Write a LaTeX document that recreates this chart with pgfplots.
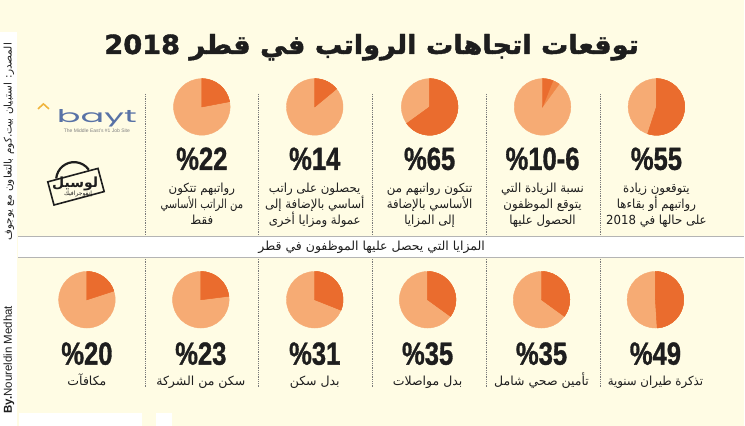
\documentclass[border=0pt]{standalone}
\usepackage{pgfplots}
\usepackage{pgfplotstable}
\usepackage{graphicx}
\usepackage{fontspec}
\pgfplotsset{compat=1.18}
\setmainfont{Liberation Sans}
\newfontfamily\arabicfont[Script=Arabic]{DejaVu Sans}
\newfontfamily\titlefont[Script=Arabic, FakeBold=1.6]{DejaVu Sans Bold}
\newfontfamily\numfont[FakeBold=1.2]{Liberation Sans Bold}
\newfontfamily\logofont{Poppins}
\TeXXeTstate=1

\definecolor{cream}{HTML}{FFFCE4}
\definecolor{piedark}{HTML}{EA6C2E}
\definecolor{pielight}{HTML}{F6AB74}
\definecolor{piemid}{HTML}{F08848}
\definecolor{baytblue}{HTML}{5872A6}
\definecolor{baytgold}{HTML}{F0B43C}
\definecolor{rulegray}{HTML}{B4B4B4}
\definecolor{divgray}{HTML}{7A7A7A}
\definecolor{ink}{HTML}{1E1E1E}

\newcommand{\ar}[1]{{\arabicfont\beginR #1\endR}}
\newcommand{\arn}[1]{\scalebox{0.94}[1]{\arabicfont\beginR #1\endR}}
\newcommand{\bignum}[1]{\scalebox{0.8}[1]{\numfont\fontsize{32}{32}\selectfont #1}}

% pie centres (cx, cy) and shares: v = outer share, w = inner (darkest) share
\pgfplotstableread{
cx  cy  v   w
202 107 22  22
315 107 14  14
430 107 65  65
543 107 10  6
657 107 55  55
87  300 20  20
201 300 23  23
315 300 31  31
428 300 35  35
542 300 35  35
656 300 49  49
}\pies

\begin{document}
\begin{tikzpicture}
\begin{axis}[
  x=1pt, y=1pt,
  xmin=0, xmax=745, ymin=0, ymax=426,
  y dir=reverse,
  hide axis, clip=false,
  axis background/.style={fill=cream},
]
% side strip and corner patches
\fill[white] (0,32) rectangle (17,426);
\fill[white] (19,413) rectangle (142,426);
\fill[white] (156,413) rectangle (172,426);

% middle band
\fill[white] (18,236) rectangle (745,258);
\draw[rulegray, line width=1.3pt] (18,236.5) -- (745,236.5);
\draw[rulegray, line width=1.3pt] (18,257.5) -- (745,257.5);
\node[text=ink, font=\fontsize{12.5}{14}\selectfont] at (372,247)
  {\ar{المزايا التي يحصل عليها الموظفون في قطر}};

% dotted column dividers
\pgfplotsinvokeforeach{145,259,373,487,601}{
  \draw[divgray, line width=0.6pt, dash pattern=on 0.6pt off 1.2pt] (#1,94) -- (#1,235);
  \draw[divgray, line width=0.6pt, dash pattern=on 0.6pt off 1.2pt] (#1,259) -- (#1,388);
}

% pies
\addplot[only marks, scatter, mark=*, mark size=0pt,
  visualization depends on={\thisrow{v} \as \pv},
  visualization depends on={\thisrow{w} \as \pw},
  scatter/@pre marker code/.code={
    \fill[pielight] (0,0) circle[radius=28.3pt];
    \fill[piemid] (0,0) -- (90:28.3pt) arc[start angle=90, delta angle={-3.6*\pv}, radius=28.3pt] -- cycle;
    \fill[piedark] (0,0) -- (90:28.3pt) arc[start angle=90, delta angle={-3.6*\pw}, radius=28.3pt] -- cycle;
  },
  scatter/@post marker code/.code={},
] table[x=cx, y=cy] {\pies};

% title
\node[anchor=base, text=ink] at (372,54)
  {\resizebox{535pt}{20pt}{\titlefont\beginR توقعات اتجاهات الرواتب في قطر \beginL 2018\endL\endR}};

% top row figures
\begin{scope}[every node/.style={anchor=base, text=ink}]
\node at (202,170) {\bignum{\%22}};
\node at (315,170) {\bignum{\%14}};
\node at (430,170) {\bignum{\%65}};
\node at (543,170) {\bignum{\%10-6}};
\node at (657,170) {\bignum{\%55}};
\end{scope}

% top row captions
\begin{scope}[every node/.style={anchor=base, text=ink, font=\fontsize{12.5}{14}\selectfont}]
\node at (202,193) {\arn{رواتبهم تتكون}};
\node at (202,209) {\scalebox{0.8}[1]{\arabicfont\beginR من الراتب الأساسي\endR}};
\node at (202,225) {\arn{فقط}};
\node at (315,193) {\arn{يحصلون على راتب}};
\node at (315,209) {\arn{أساسي بالإضافة إلى}};
\node at (315,225) {\arn{عمولة ومزايا أخرى}};
\node at (430,193) {\arn{تتكون رواتبهم من}};
\node at (430,209) {\arn{الأساسي بالإضافة}};
\node at (430,225) {\arn{إلى المزايا}};
\node at (543,193) {\arn{نسبة الزيادة التي}};
\node at (543,209) {\arn{يتوقع الموظفون}};
\node at (543,225) {\arn{الحصول عليها}};
\node at (657,193) {\arn{يتوقعون زيادة}};
\node at (657,209) {\arn{رواتبهم أو بقاءها}};
\node at (657,225) {\scalebox{0.94}[1]{\arabicfont\beginR على حالها في \beginL 2018\endL\endR}};
\end{scope}

% bottom row figures
\begin{scope}[every node/.style={anchor=base, text=ink}]
\node at (87,365) {\bignum{\%20}};
\node at (201,365) {\bignum{\%23}};
\node at (315,365) {\bignum{\%31}};
\node at (428,365) {\bignum{\%35}};
\node at (542,365) {\bignum{\%35}};
\node at (656,365) {\bignum{\%49}};
\end{scope}

% bottom row captions
\begin{scope}[every node/.style={anchor=base, text=ink, font=\fontsize{12.5}{14}\selectfont}]
\node at (87,386) {\ar{مكافآت}};
\node at (201,386) {\ar{سكن من الشركة}};
\node at (315,386) {\ar{بدل سكن}};
\node at (428,386) {\ar{بدل مواصلات}};
\node at (542,386) {\ar{تأمين صحي شامل}};
\node at (656,386) {\arn{تذكرة طيران سنوية}};
\end{scope}

% side credits
\node[rotate=90, text=ink, font=\fontsize{11.5}{13}\selectfont] at (9,360) {\textbf{By.}Noureldin Medhat};
\node[rotate=90, text=ink, font=\fontsize{10.5}{12}\selectfont] at (9,142)
  {{\arabicfont\beginR المصدر: استبيان بيت.كوم بالتعاون مع يوجوف\endR}};

% bayt logo
\draw[baytgold, line width=1.6pt] (38,109) -- (43.5,104) -- (49,109);
\node[anchor=base, text=baytblue, font=\logofont\fontsize{24}{24}\selectfont] at (97,123)
  {\resizebox{80pt}{13pt}{bayt}};
\node[text=gray, font=\fontsize{5}{6}\selectfont] at (97,131) {The Middle East's \#1 Job Site};

% stamp
\begin{scope}[shift={(axis cs:75,183)}, rotate=15]
  \draw[ink, line width=2.2pt] (-17pt,9pt) arc[start angle=160, end angle=20, radius=18pt];
  \draw[ink, line width=1.6pt, fill=cream] (-26pt,-16pt) rectangle (26pt,8pt);
  \node[text=ink, font=\arabicfont\bfseries\fontsize{14}{14}\selectfont] at (0,-1pt) {\ar{لوسيل}};
  \node[text=ink, font=\arabicfont\fontsize{6}{6}\selectfont] at (0,-12pt) {\ar{إنفوجرافيك}};
\end{scope}
\end{axis}
\end{tikzpicture}
\end{document}
